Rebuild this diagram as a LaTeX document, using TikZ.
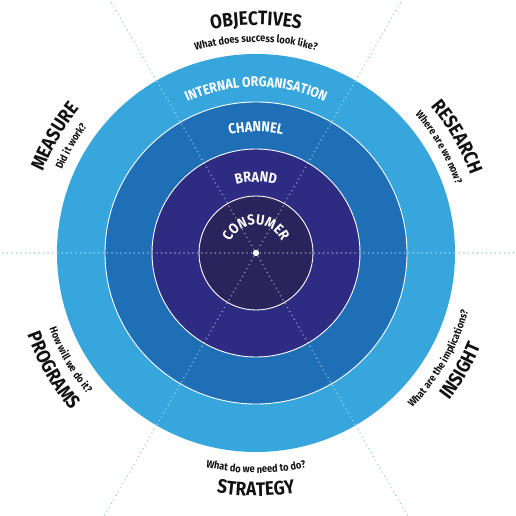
\documentclass[tikz,border=0pt]{standalone}
\usepackage{fontspec}
\setmainfont{Fira Sans}
\newfontfamily\lf[FakeStretch=0.88]{Fira Sans}
\usetikzlibrary{decorations.text}
\definecolor{ringA}{HTML}{36A6DD}
\definecolor{ringB}{HTML}{1F6FB6}
\definecolor{ringC}{HTML}{2E2C82}
\definecolor{ringD}{HTML}{29255C}
\definecolor{dotblue}{HTML}{9CCFEC}
\definecolor{ink}{HTML}{111111}
\newcommand{\arctop}[6]{% angle, radius, span, size, color, text
  \path[decorate, decoration={text along path, text align=center, text color=#5,
    text={|\lf\bfseries\fontsize{#4}{#4}\selectfont|#6}}]
    ({#1+#3}:#2) arc[start angle={#1+#3}, end angle={#1-#3}, radius=#2];}
\newcommand{\arcbot}[6]{% angle, radius, span, size, color, text
  \path[decorate, decoration={text along path, text align=center, text color=#5,
    text={|\lf\bfseries\fontsize{#4}{#4}\selectfont|#6}}]
    ({#1-#3}:#2) arc[start angle={#1-#3}, end angle={#1+#3}, radius=#2];}
\begin{document}
\begin{tikzpicture}[x=1pt,y=1pt,
  ringline/.style={draw=white, line width=0.9pt},
  dotline/.style={line width=1.6pt, line cap=round, dash pattern=on 0pt off 4.5pt}]
\useasboundingbox (-256,-263) rectangle (259,253);
\clip (-256,-263) rectangle (259,253);
% outer dotted rays
\foreach \a in {0,60,...,300} \draw[dotline, dotblue] (\a:199) -- (\a:400);
% rings
\fill[ringA] (0,0) circle[radius=199];
\filldraw[fill=ringB, ringline] (0,0) circle[radius=151];
\filldraw[fill=ringC, ringline] (0,0) circle[radius=104];
\filldraw[fill=ringD, ringline] (0,0) circle[radius=57];
% inner dotted rays
\foreach \a in {0,60,...,300} \draw[dotline, white, opacity=0.5] (0,0) -- (\a:199);
\fill[white] (0,0) circle[radius=3.2];
% ring labels
\arctop{90}{166}{70}{14}{white}{INTERNAL ORGANISATION}
\arctop{90}{121}{70}{14.5}{white}{CHANNEL}
\arctop{90}{71}{80}{14.5}{white}{BRAND}
\arctop{90}{28}{100}{14.5}{white}{CONSUMER}
% outer labels (upper half)
\arctop{90}{228}{60}{19.5}{ink}{OBJECTIVES}
\arctop{90}{211}{60}{10.5}{ink}{What does success look like?}
\arctop{30}{228}{60}{19.5}{ink}{RESEARCH}
\arctop{30}{211}{60}{10.5}{ink}{Where are we now?}
\arctop{150}{228}{60}{19.5}{ink}{MEASURE}
\arctop{150}{211}{60}{10.5}{ink}{Did it work?}
% outer labels (lower half)
\arcbot{-90}{243}{60}{19.5}{ink}{STRATEGY}
\arcbot{-90}{220}{60}{10.5}{ink}{What do we need to do?}
\arcbot{-30}{243}{60}{19.5}{ink}{INSIGHT}
\arcbot{-30}{220}{60}{10.5}{ink}{What are the implications?}
\arcbot{-150}{243}{60}{19.5}{ink}{PROGRAMS}
\arcbot{-150}{220}{60}{10.5}{ink}{How will we do it?}
\end{tikzpicture}
\end{document}
